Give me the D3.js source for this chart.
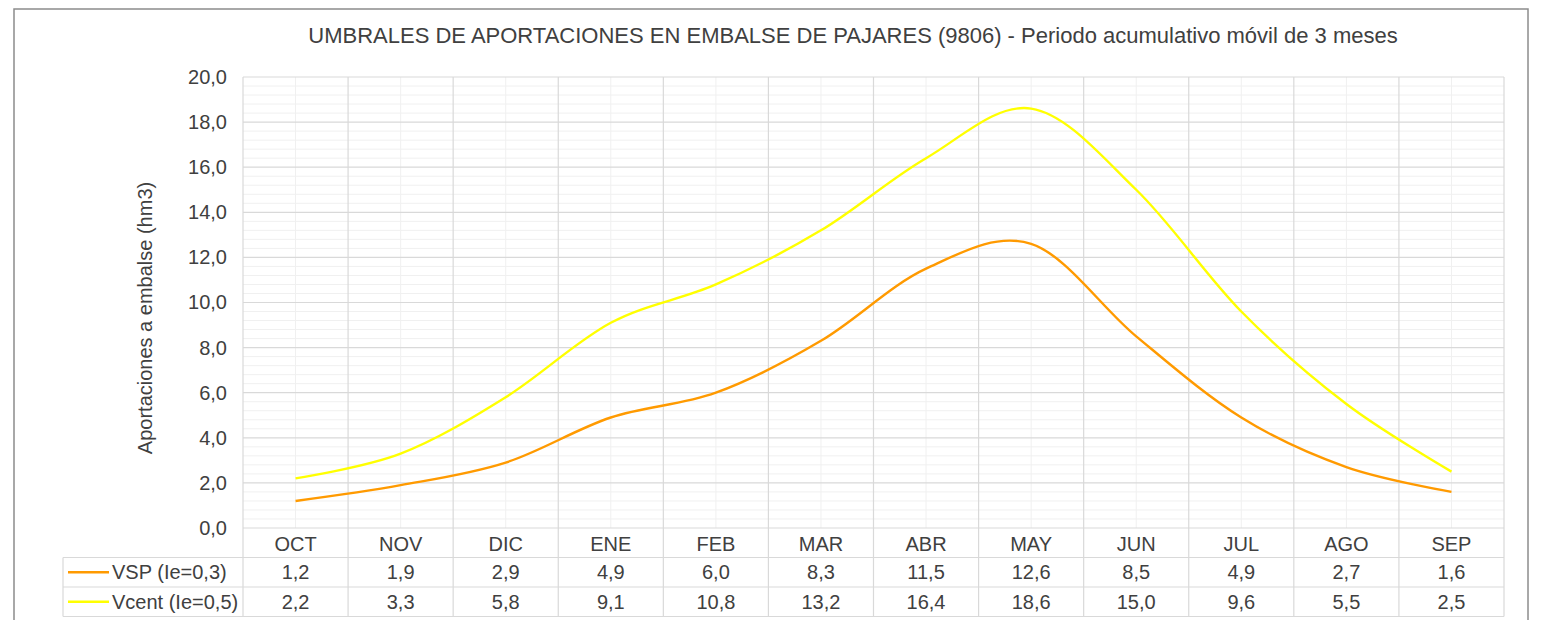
<!DOCTYPE html>
<html lang="es">
<head>
<meta charset="UTF-8">
<title>Umbrales de aportaciones</title>
<script src="https://cdn.jsdelivr.net/npm/d3@7"></script>
<style>
  body { margin: 0; background: #fff; }
  text { font-family: "Liberation Sans", Arial, sans-serif; fill: #404040; }
</style>
</head>
<body>
<div id="chart"></div>
<script>
// datos
const meses = ["OCT", "NOV", "DIC", "ENE", "FEB", "MAR", "ABR", "MAY", "JUN", "JUL", "AGO", "SEP"];
const vsp = [1.2, 1.9, 2.9, 4.9, 6.0, 8.3, 11.5, 12.6, 8.5, 4.9, 2.7, 1.6];
const vcent = [2.2, 3.3, 5.8, 9.1, 10.8, 13.2, 16.4, 18.6, 15.0, 9.6, 5.5, 2.5];
const yTicks = [0, 2, 4, 6, 8, 10, 12, 14, 16, 18, 20];

const series = [
  { name: "VSP (Ie=0,3)", values: vsp, color: "#FF9A00" },
  { name: "Vcent (Ie=0,5)", values: vcent, color: "#FFFF00" }
];

const W = 1544, H = 620;
const plot = { left: 243, right: 1504, top: 77, bottom: 528 };
const rowH = 29.5;
const legendLeft = 63;
const fs = "20px";

const es = d3.formatLocale({ decimal: ",", thousands: ".", grouping: [3], currency: ["", "€"] });
const fmt = es.format(".1f");

const svg = d3.select("#chart").append("svg")
  .attr("width", W).attr("height", H);

// marco exterior
svg.append("rect")
  .attr("x", 14).attr("y", 9)
  .attr("width", 1514).attr("height", H)
  .attr("fill", "none").attr("stroke", "#8c8c8c").attr("stroke-width", 1.5);

const x = d3.scaleBand().domain(meses).range([plot.left, plot.right]).padding(0);
const y = d3.scaleLinear().domain([0, 20]).range([plot.bottom, plot.top]);
const cx = m => x(m) + x.bandwidth() / 2;

// rejilla menor
const minor = d3.range(0, 20.01, 0.4).filter(v => Math.abs(v / 2 - Math.round(v / 2)) > 0.01);
svg.append("g").selectAll("line").data(minor).join("line")
  .attr("x1", plot.left).attr("x2", plot.right)
  .attr("y1", d => y(d)).attr("y2", d => y(d))
  .attr("stroke", "#f0f0f0").attr("stroke-width", 1);
svg.append("g").selectAll("line").data(meses).join("line")
  .attr("x1", d => cx(d)).attr("x2", d => cx(d))
  .attr("y1", plot.top).attr("y2", plot.bottom)
  .attr("stroke", "#f0f0f0").attr("stroke-width", 1);

// rejilla mayor
svg.append("g").selectAll("line").data(yTicks).join("line")
  .attr("x1", plot.left).attr("x2", plot.right)
  .attr("y1", d => y(d)).attr("y2", d => y(d))
  .attr("stroke", "#d9d9d9").attr("stroke-width", 1.2);
svg.append("g").selectAll("line").data(meses.concat(["__end"])).join("line")
  .attr("x1", d => d === "__end" ? plot.right : x(d))
  .attr("x2", d => d === "__end" ? plot.right : x(d))
  .attr("y1", plot.top).attr("y2", plot.bottom + rowH * 3)
  .attr("stroke", "#d9d9d9").attr("stroke-width", 1.2);

// eje Y
const yAxis = svg.append("g")
  .attr("transform", `translate(${plot.left - 16},0)`)
  .call(d3.axisLeft(y).tickValues(yTicks).tickFormat(fmt).tickSize(0).tickPadding(0));
yAxis.select(".domain").remove();
yAxis.selectAll("text")
  .style("font-size", fs)
  .style("font-family", "'Liberation Sans', Arial, sans-serif")
  .attr("fill", "#404040");

svg.append("text")
  .attr("transform", `translate(152,318) rotate(-90)`)
  .attr("text-anchor", "middle")
  .style("font-size", fs)
  .text("Aportaciones a embalse (hm3)");

// título
svg.append("text")
  .attr("x", 853).attr("y", 43)
  .attr("text-anchor", "middle")
  .style("font-size", "22px")
  .text("UMBRALES DE APORTACIONES EN EMBALSE DE PAJARES (9806) - Periodo acumulativo móvil de 3 meses");

// líneas
const line = d3.line()
  .x((d, i) => cx(meses[i]))
  .y(d => y(d))
  .curve(d3.curveCardinal.tension(0));

svg.append("g").selectAll("path").data(series).join("path")
  .attr("d", s => line(s.values))
  .attr("fill", "none")
  .attr("stroke", s => s.color)
  .attr("stroke-width", 2.4);

// tabla de datos
const tbl = svg.append("g");
[1, 2, 3].forEach(r => {
  tbl.append("line")
    .attr("x1", legendLeft).attr("x2", plot.right)
    .attr("y1", plot.bottom + rowH * r).attr("y2", plot.bottom + rowH * r)
    .attr("stroke", "#d9d9d9").attr("stroke-width", 1.2);
});
tbl.append("line")
  .attr("x1", legendLeft).attr("x2", legendLeft)
  .attr("y1", plot.bottom + rowH).attr("y2", plot.bottom + rowH * 3)
  .attr("stroke", "#d9d9d9").attr("stroke-width", 1.2);

// cabecera de meses
tbl.selectAll("text.mes").data(meses).join("text")
  .attr("class", "mes")
  .attr("x", d => cx(d))
  .attr("y", plot.bottom + rowH / 2 + 1)
  .attr("dy", "0.36em")
  .attr("text-anchor", "middle")
  .style("font-size", fs)
  .text(d => d);

series.forEach((s, r) => {
  const yr = plot.bottom + rowH * (r + 1) + rowH / 2;
  tbl.append("line")
    .attr("x1", 68).attr("x2", 109)
    .attr("y1", yr).attr("y2", yr)
    .attr("stroke", s.color).attr("stroke-width", 2.4);
  tbl.append("text")
    .attr("x", 112).attr("y", yr).attr("dy", "0.36em")
    .style("font-size", fs)
    .text(s.name);
  tbl.append("g").selectAll("text").data(s.values).join("text")
    .attr("x", (d, i) => cx(meses[i]))
    .attr("y", yr).attr("dy", "0.36em")
    .attr("text-anchor", "middle")
    .style("font-size", fs)
    .text(d => fmt(d));
});
</script>
</body>
</html>
